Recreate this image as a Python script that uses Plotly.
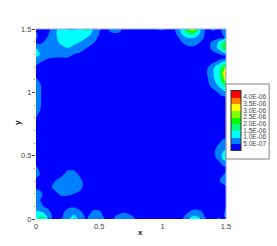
import plotly.graph_objects as go

# Field values in units of 1E-07
x_vals = [0, .03, .06, .1, .15, .2, .25, .3, .35, .4, .45, .5, .55, .6, .65, .7,
          .8, .9, .95, 1.0, 1.05, 1.1, 1.15, 1.2, 1.25, 1.3, 1.35, 1.4, 1.45, 1.48, 1.5]
y_vals = [0, .02, .05, .1, .15, .2, .25, .3, .35, .4, .45, .5, .55, .6, .7, .8, .85, .9, .95,
          1.0, 1.05, 1.1, 1.15, 1.2, 1.25, 1.275, 1.3, 1.35, 1.4, 1.43, 1.46, 1.48, 1.5]
z_rows = [
 [14,18,21,7,3,5,9,13,8,4,10,10,4,4,7,9, 4,3,3,4,3,3,4,10,13,11,4,4,6,3,3],
 [13,15,15,7,3,4,8,11,7,4,8,8,3,4,6,7, 4,3,3,3,3,3,3,8,11,8,3,3,4,4,7],
 [12,11,10,6,3,3,8,9,6,3,6,6,3,3,4,5, 3,3,3,3,3,3,3,5,7,6,3,3,3,4,7],
 [6,6,5,4,3,3,3,4,3,3,3,3,3,3,3,3, 3,3,3,3,3,3,3,3,3,3,3,3,3,3,4],
 [5,5,3,3,3,3,3,3,3,3,3,3,3,3,3,3, 3,3,3,3,3,3,3,3,3,3,3,3,3,3,3],
 [8,7,4,3,4,6,6,5,4,3,3,3,3,3,3,3, 3,3,3,3,3,3,3,3,3,3,3,3,3,3,3],
 [4,3,3,4,6,7,7,7,6,3,3,3,3,3,3,3, 3,3,3,3,3,3,3,3,3,3,3,3,3,3,4],
 [4,3,3,3,5,7,8,8,6,3,3,3,3,3,3,3, 3,3,3,3,3,3,3,3,3,3,3,3,5,7,8],
 [6,5,3,3,3,4,7,7,4,3,3,3,3,3,3,3, 3,3,3,3,3,3,3,3,3,3,3,3,4,5,6],
 [6,4,3,3,3,3,4,4,3,3,3,3,3,3,3,3, 3,3,3,3,3,3,3,3,3,3,3,3,3,3,4],
 [4,3,3,3,3,3,3,3,3,3,3,3,3,3,3,3, 3,3,3,3,3,3,3,3,3,3,3,3,5,9,9],
 [3,3,3,3,3,3,3,3,3,3,3,3,3,3,3,3, 3,3,3,3,3,3,3,3,3,3,3,4,8,12,13],
 [3,3,3,3,3,3,3,3,3,3,3,3,3,3,3,3, 3,3,3,3,3,3,3,3,3,3,3,4,7,9,10],
 [3,3,3,3,3,3,3,3,3,3,3,3,3,3,3,3, 3,3,3,3,3,3,3,3,3,3,3,3,5,6,6],
 [3,3,3,3,3,3,3,3,3,3,3,3,3,3,3,3, 3,3,3,3,3,3,3,3,3,3,3,3,3,3,3],
 [5,3,3,3,3,3,3,3,3,3,3,3,3,3,3,3, 3,3,3,3,3,3,3,3,3,3,3,3,3,3,3],
 [7,5,3,3,3,3,3,3,3,3,3,3,3,3,3,3, 3,3,3,3,3,3,3,3,3,3,3,3,3,3,5],
 [8,6,3,3,3,3,3,3,3,3,3,3,3,3,3,3, 3,3,3,3,3,3,3,3,3,3,3,3,3,3,5],
 [8,6,3,3,3,3,3,3,3,3,3,3,3,3,3,3, 3,3,3,3,3,3,3,3,3,3,3,3,3,3,3],
 [8,6,3,3,3,3,3,3,3,3,3,3,3,3,3,3, 3,3,3,3,3,3,3,3,3,3,3,3,6,8,9],
 [8,6,3,3,3,3,3,3,3,3,3,3,3,3,3,3, 3,3,3,3,3,3,3,3,3,3,3,7,11,15,18],
 [6,4,3,3,3,3,3,3,3,3,3,3,3,3,3,3, 3,3,3,3,3,3,3,3,3,3,4,9,14,24,33],
 [3,3,3,3,3,3,3,3,3,3,3,3,3,3,3,3, 3,3,3,3,3,3,3,3,3,3,5,10,15,30,38],
 [4,3,3,3,3,3,3,3,3,3,3,3,3,3,3,3, 3,3,3,3,3,3,3,3,3,3,4,9,14,22,28],
 [8,6,5,3,3,3,3,3,3,3,3,3,3,3,3,3, 3,3,3,3,3,3,3,3,3,3,3,3,6,8,10],
 [10,9,7,6,5,5,5,4,3,3,3,3,3,3,3,3, 3,3,3,3,3,3,3,3,3,3,3,3,3,3,3],
 [12,10,7,7,7,7,7,5,4,3,3,3,3,3,3,3, 3,3,3,3,3,3,3,3,3,3,3,3,5,6,6],
 [10,8,7,8,8,9,10,9,7,5,3,3,3,3,3,3, 3,3,3,3,3,3,3,4,4,3,3,7,12,20,26],
 [4,3,5,8,9,11,12,11,10,7,6,3,3,3,3,3, 3,3,3,3,3,3,5,7,7,5,3,6,11,18,22],
 [6,3,3,6,9,12,13,13,11,10,7,4,3,3,3,3, 3,3,3,3,3,3,7,10,10,7,3,3,4,4,6],
 [6,3,3,5,9,13,12,13,13,14,8,5,3,4,4,3, 3,3,3,3,3,4,10,15,16,8,3,3,3,6,7],
 [5,3,3,4,9,13,13,13,13,15,9,5,3,6,6,3, 3,3,4,4,3,5,11,20,24,9,3,4,3,7,7],
 [3,3,3,4,9,12,9,9,14,20,10,6,3,7,7,3, 3,3,5,6,3,5,12,27,30,9,4,7,3,7,7],
]
band_colors = ["#0000ff", "#0080ff", "#00ffff", "#00ff80", "#00ff00",
               "#80ff00", "#ffff00", "#ff8000", "#ff0000"]
level_vals = [5, 10, 15, 20, 25, 30, 35, 40]
level_text = ["5.0E-07", "1.0E-06", "1.5E-06", "2.0E-06", "2.5E-06", "3.0E-06", "3.5E-06", "4.0E-06"]

n = len(band_colors)
scale = []
for i, c in enumerate(band_colors):
    scale.append([i / n, c])
    scale.append([(i + 1) / n, c])

FONT = "Liberation Sans"
fig = go.Figure(go.Contour(
    x=x_vals, y=y_vals, z=z_rows,
    zmin=0, zmax=45, colorscale=scale,
    contours=dict(coloring="fill", start=5, end=40, size=5, showlines=False),
    line=dict(width=0),
    colorbar=dict(
        x=(227 - 36) / 190, xanchor="left", y=(219 - 157) / 190, yanchor="bottom",
        lenmode="pixels", len=73, thicknessmode="pixels", thickness=10,
        xpad=4, ypad=6.5,
        bgcolor="white", bordercolor="#808080", borderwidth=1,
        outlinecolor="#333333", outlinewidth=1,
        ticks="", tickvals=level_vals, ticktext=level_text,
        tickfont=dict(family=FONT, size=6.5, color="#444444"),
    ),
))
axis = dict(
    range=[0, 1.5], tickvals=[0, .5, 1, 1.5], ticktext=["0", "0.5", "1", "1.5"],
    ticks="outside", ticklen=3, tickwidth=1, tickcolor="#444444",
    minor=dict(dtick=0.1, tick0=0, ticks="outside", ticklen=1, tickwidth=1, tickcolor="#888888"),
    showgrid=False, zeroline=False, showline=False,
    tickfont=dict(family=FONT, size=7.5, color="#444444"),
)
x_axis = dict(axis, ticks="inside", ticklen=1, tickcolor="#444488", ticklabelstandoff=1,
              minor=dict(dtick=0.1, tick0=0, ticks="inside", ticklen=1, tickwidth=1, tickcolor="#2222bb"))
fig.update_layout(
    width=277, height=246, margin=dict(l=36, r=51, t=29, b=27, pad=0, autoexpand=False),
    paper_bgcolor="white", plot_bgcolor="white",
    xaxis=x_axis,
    yaxis=dict(axis, ticklabelstandoff=-1),
    annotations=[
        dict(text="<b>x</b>", xref="paper", yref="paper", x=(140 - 36) / 190, y=(219 - 232) / 190,
             showarrow=False, xanchor="center", yanchor="middle", font=dict(family=FONT, size=8, color="#222222")),
        dict(text="<b>y</b>", xref="paper", yref="paper", x=(17 - 36) / 190, y=(219 - 123) / 190, textangle=-90,
             showarrow=False, xanchor="center", yanchor="middle", font=dict(family=FONT, size=8, color="#222222")),
    ],
    shapes=[
        dict(type="line", xref="paper", yref="paper", x0=0, x1=1, y0=1, y1=1, line=dict(color="#a0a0ff", width=1)),
        dict(type="line", xref="paper", yref="paper", x0=1, x1=1, y0=0, y1=1, line=dict(color="#a0a0ff", width=1)),
    ],
)
fig.write_html("out.html", post_script="document.body.style.margin='0';", config=dict(displayModeBar=False))
